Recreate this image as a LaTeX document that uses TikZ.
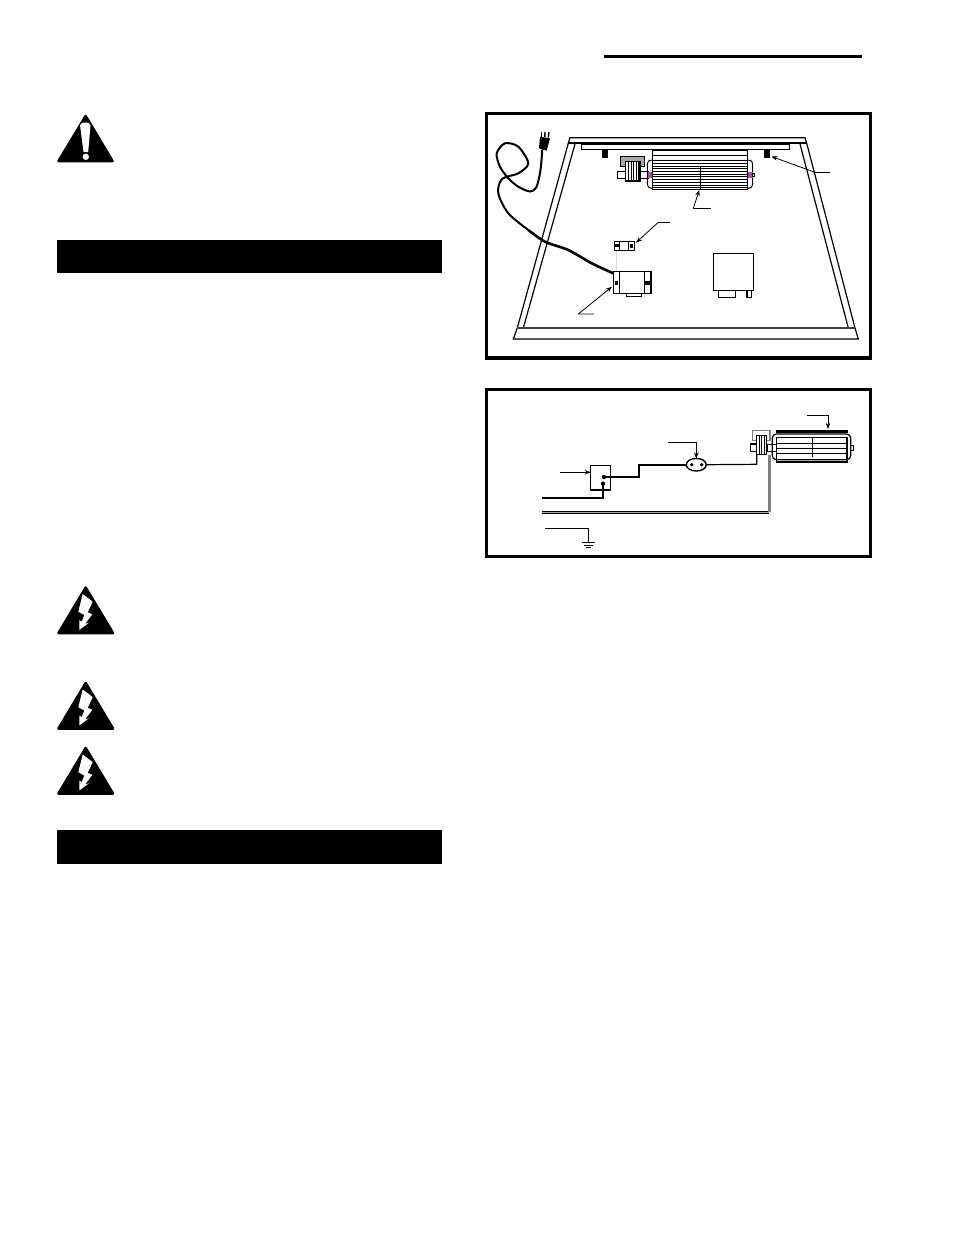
\documentclass[tikz,border=0pt]{standalone}
\usepackage{amsmath}
\usetikzlibrary{shapes.geometric,arrows.meta}

\definecolor{capgray}{gray}{0.65}
\definecolor{wiregray}{gray}{0.5}
\definecolor{dashgray}{gray}{0.85}
\definecolor{mountpurple}{RGB}{165,80,160}

\tikzset{
  part/.style={draw,fill=white,inner sep=0pt,outer sep=0pt,line width=1.2pt,anchor=north west},
  lead/.style={line width=.8pt,-{Stealth[length=6pt,width=4.5pt]}},
  tagline/.style={line width=.8pt},
  wire/.style={line width=1.2pt},
  fin/.style={line width=.9pt},
  warn/.style={fill=black,draw=black,line width=2.5pt,line join=round},
  voltbolt/.pic={
    \draw[warn] (85.7,587.5) -- (58.5,633) -- (113,633) -- cycle;
    \fill[white] (82.7,594) -- (92.7,601.7) -- (87.7,612.3) -- (92.3,614.3) -- (85,624)
      -- (89,622.7) -- (79.3,630) -- (79.3,620) -- (81.7,621.7) -- (84.3,615) -- (78.3,611.7) -- cycle;
  }
}

\begin{document}
\begin{tikzpicture}[x=1pt,y=-1pt]

  \useasboundingbox (0,0) rectangle (954,1235);
  \fill[white] (0,0) rectangle (954,1235);

  \draw[line width=3pt] (604,56) -- (862,56);
  \fill (57,240) rectangle (442,273);
  \fill (57,830) rectangle (442,864);

  \draw[warn] (85.7,116) -- (58.5,161) -- (112.5,161) -- cycle;
  \fill[white] (80,125) .. controls (81,121.5) and (90,121.5) .. (90.5,125) -- (88.2,152) -- (83.5,152) -- cycle;
  \fill[white] (85.8,156.8) circle (3.2);

  \pic at (0,0) {voltbolt};
  \pic at (0,95.5) {voltbolt};
  \pic at (0,160.5) {voltbolt};

  \draw[line width=3.4pt] (486.2,113.7) rectangle (870.3,358);
  \draw[line width=3.4pt] (486.2,389.7) rectangle (870.3,556.5);

  % tray
  \draw[line width=1.2pt] (568.3,143.3) -- (570,137.7) -- (805,137.7) -- (806.7,143.3);
  \draw[line width=2pt] (568.3,143.3) -- (806.7,143.3);
  \draw[line width=1.2pt] (568.3,143.3) -- (517.3,328) -- (513.3,339) -- (858.3,339) -- (855,328) -- (806.7,143.3);
  \draw[line width=1.2pt] (575,144) -- (523.3,328);
  \draw[line width=1.2pt] (800,144) -- (848.3,328);
  \draw[line width=1.8pt,black!75] (517.3,328) -- (855,328);
  \draw[line width=1pt] (581.7,144.3) rectangle (789.7,149.3);

  \begin{scope}[every node/.style={fill=black,inner sep=0pt,outer sep=0pt,anchor=north west}]
    \node[minimum width=6pt,minimum height=7.5pt] (clipleft) at (602,150) {};
    \node[minimum width=5.7pt,minimum height=7.5pt] (clipright) at (764.3,150) {};
  \end{scope}

  % blower in the tray
  \node[part,fill=capgray,minimum width=23.6pt,minimum height=10pt] (motorcap) at (620.7,156.7) {};
  \node[part,minimum width=31pt,minimum height=6.6pt] (shaft) at (617.3,171.7) {};
  \draw[line width=1pt,rounded corners=4pt] (647.3,160) rectangle (752.7,188.3);
  \node[part,fill=mountpurple,draw=none,minimum width=5pt,minimum height=6.6pt] (mountleft) at (647.7,171.7) {};
  \node[part,fill=mountpurple,draw=none,minimum width=5pt,minimum height=6.6pt] (mountright) at (747.7,171.7) {};
  \node[part,line width=.8pt,minimum width=2pt,minimum height=3.4pt] (nubtop) at (752.7,173.3) {};
  \node[part,minimum width=14.7pt,minimum height=19.3pt] (fantop) at (625.3,161.7) {};
  \foreach \x in {628.3,631,633.5,636,638} {
    \draw[fin] (\x,161.7) -- (\x,181);
  }
  \fill[white] (652.7,150) rectangle (747.3,189.3);
  \node[part,fill=none,line width=1.5pt,minimum width=94.6pt,minimum height=39.3pt] (blowertop) at (652.7,150) {};
  \draw[line width=1pt] (652.7,155) -- (747.3,155);
  \foreach \y in {160.7,163.4,...,188} {
    \draw[fin] (652.7,\y) -- (747.3,\y);
  }
  \draw[line width=1pt] (700.7,166) -- (700.7,189.3);

  \coordinate (blowertag) at (710.7,208.3);
  \coordinate (blowerbend) at (693.3,208.3);
  \draw[tagline] (blowertag) -- (blowerbend);
  \draw[lead] (blowerbend) -- (699.3,190);

  \coordinate (cliptag) at (830,172.3);
  \coordinate (clipbend) at (815,172.3);
  \draw[tagline] (cliptag) -- (clipbend);
  \draw[lead] (clipbend) -- (771.5,156.5);

  % limit switch and control box
  \node[part,minimum width=20.4pt,minimum height=9pt] (limit) at (614.3,241.3) {};
  \draw[line width=1pt] (619.7,241.3) -- (619.7,250.3);
  \draw[line width=1pt] (628.3,241.3) -- (628.3,250.3);
  \fill (615,244) rectangle (619,247.3);
  \fill (630,244) rectangle (633,248);

  \node[part,minimum width=15.4pt,minimum height=3.4pt] (tab) at (626.3,293.3) {};
  \node[part,minimum width=38pt,minimum height=22pt] (control) at (613.7,271.3) {};
  \draw[line width=1pt] (619.3,271.3) -- (619.3,293.3);
  \draw[line width=1.4pt] (644.3,271.3) -- (644.3,293.3);
  \draw[line width=1.4pt] (650.5,271.3) -- (650.5,293.3);
  \fill (645,280.7) rectangle (651,285);
  \fill (615,280.7) rectangle (617.7,285);

  \draw[dashgray,line width=.8pt] (616.7,250.8) -- (616.7,270.8);

  \coordinate (limittag) at (670,222.3);
  \coordinate (limitbend) at (658.3,222.3);
  \draw[tagline] (limittag) -- (limitbend);
  \draw[lead] (limitbend) -- (636,242.7);

  \coordinate (controltag) at (593.7,314);
  \coordinate (controlbend) at (578.3,314);
  \draw[capgray,line width=1.2pt] (controltag) -- (controlbend);
  \draw[lead] (controlbend) -- (612,286.7);

  % relay box
  \node[part,minimum width=17.4pt,minimum height=7.4pt] (relayleg) at (718.3,290.3) {};
  \node[part,minimum width=4.7pt,minimum height=7.4pt] (relaypin) at (747,290.3) {};
  \node[part,minimum width=40.4pt,minimum height=37pt] (relay) at (713.3,253.3) {};

  % power cord
  \coordinate (plugend) at (542.3,149.3);
  \draw[line width=1.4pt] (541.5,137) -- (541.5,132);
  \draw[line width=1.4pt] (544.8,137) -- (545,132);
  \draw[line width=1.4pt] (548.3,137.5) -- (549,132);
  \fill (540,136.7) -- (550,138.3) -- (546.7,150.7) -- (539,148.3) -- cycle;
  \draw[line width=2pt] plot[smooth] coordinates {(plugend) (540.5,170) (536.5,187) (530,191.5) (518.3,186.7)
    (508.3,178.3) (500,166.7) (496.7,153.3) (505,143.3) (518.3,146.7) (528.3,163.3) (518.3,173.3)
    (502,179) (498.3,193.3) (508.3,213.3) (528.3,230)};
  \draw[line width=2.6pt] plot[smooth] coordinates {(528.3,230) (545,241.7) (568.3,250) (591.7,263.3) (613.3,273.3)};

  % wiring diagram
  \node[part,line width=1.5pt,minimum width=20pt,minimum height=24.7pt] (switch) at (590.7,465.3) {};
  \coordinate (switchhot) at (604,477);
  \coordinate (switchin) at (603,483.7);
  \fill (switchhot) circle (2.2);
  \fill (switchin) circle (2.2);

  \node[draw,ellipse,fill=white,inner sep=0pt,outer sep=0pt,line width=1.4pt,minimum width=20pt,minimum height=12.6pt] (fuse) at (696.3,464.7) {};
  \fill (691.7,464.7) circle (1.9);
  \fill (701.7,464.7) circle (1.9);

  \coordinate (linein) at (542,497.7);
  \coordinate (lineturn) at (603,497.7);
  \draw[line width=1.9pt] (linein) -- (lineturn) -- (switchin);
  \draw[line width=1.6pt] (switchhot) -- (639,477) -- (639,464.7) -- (fuse.west);
  \draw[wire] (fuse.east) -- (756.7,464.3) -- (756.7,454.7);

  \coordinate (neutralin) at (542,512.3);
  \coordinate (neutralturn) at (769.3,512.3);
  \coordinate (neutralup) at (769.3,454.7);
  \draw[line width=3.2pt] (neutralin) -- (neutralturn);
  \draw[line width=1.1pt,capgray] (neutralin) -- (neutralturn);
  \draw[line width=2.6pt,wiregray] (neutralturn) -- (neutralup);

  \coordinate (groundin) at (545,528.7);
  \coordinate (groundtop) at (588.3,528.7);
  \coordinate (groundbar) at (588.3,542.3);
  \draw[line width=1.5pt] (groundin) -- (groundtop) -- (groundbar);
  \draw[line width=1.2pt] (582,542.7) -- (595,542.7);
  \draw[line width=1pt] (584,545) -- (592.7,545);
  \draw[line width=1pt] (585.7,547.3) -- (591,547.3);

  % blower in the diagram
  \node[part,line width=1.5pt,fill=white,draw=wiregray,minimum width=17.7pt,minimum height=9.6pt] (boxcap) at (752.3,430.7) {};
  \node[part,minimum width=6pt,minimum height=7.3pt] (shaftleft) at (750.7,444) {};
  \node[part,minimum width=9.4pt,minimum height=6.6pt] (shaftright) at (767.3,444.7) {};
  \node[part,line width=.8pt,minimum width=2.3pt,minimum height=4.7pt] (nubdiag) at (850.7,445.3) {};
  \node[part,minimum width=10pt,minimum height=19.4pt] (fandiag) at (756.7,435.3) {};
  \foreach \x in {759.2,761.7,764.2} {
    \draw[fin] (\x,435.3) -- (\x,454.7);
  }
  \fill (776.3,429.7) rectangle (847.7,433);
  \fill (776.3,460.7) rectangle (847.7,462.7);
  \draw[line width=1.2pt,rounded corners=4pt] (772.3,434) rectangle (850.7,459.7);
  \node[part,fill=none,line width=1.2pt,minimum width=70.7pt,minimum height=24.7pt] (blowerdiag) at (776.3,437.3) {};
  \foreach \y in {443,448.3,453} {
    \draw[fin] (776.3,\y) -- (847,\y);
  }
  \draw[fin] (812.7,438.3) -- (812.7,457.3);

  \coordinate (switchtag) at (560.3,472.3);
  \draw[lead] (switchtag) -- (switch.west |- switchtag);

  \coordinate (fusetag) at (668,442);
  \coordinate (fusebend) at (696.3,442);
  \draw[lead] (fusetag) -- (fusebend) -- (fuse.north);

  \coordinate (diagtag) at (807,415.3);
  \coordinate (diagbend) at (828,415.3);
  \draw[lead] (diagtag) -- (diagbend) -- (828,429);

\end{tikzpicture}
\end{document}
